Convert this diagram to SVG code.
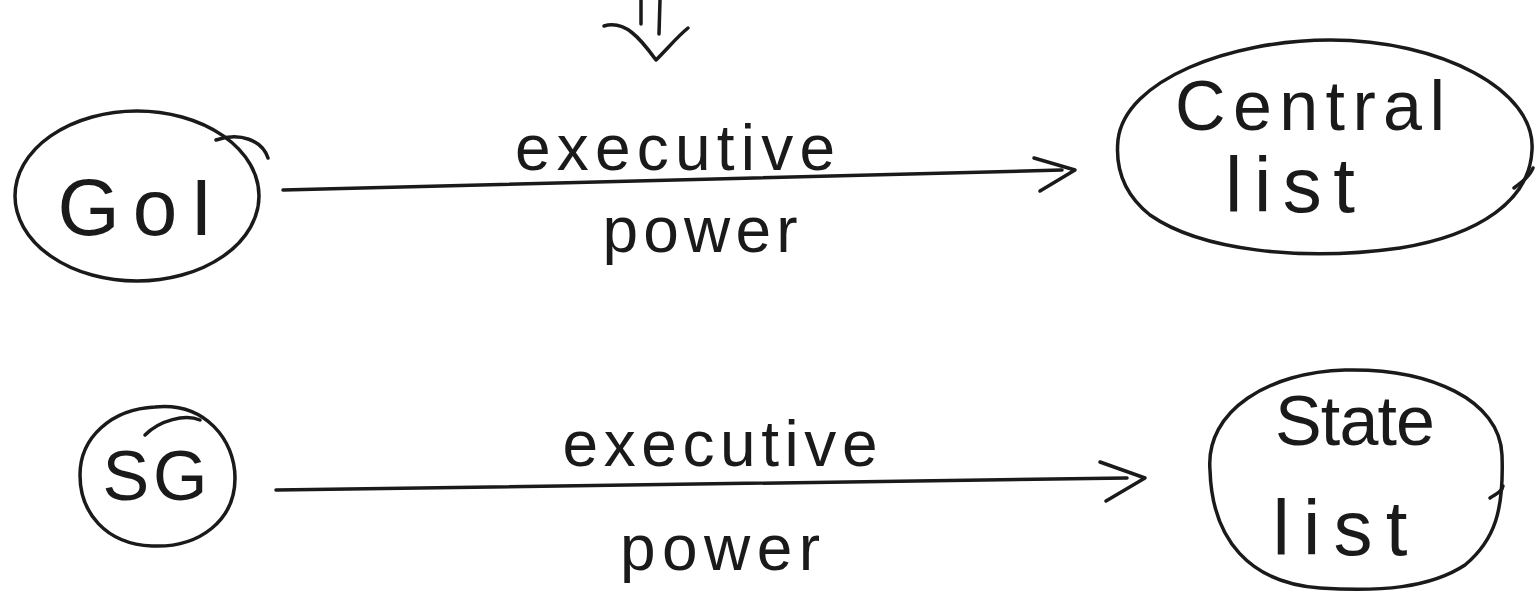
<svg xmlns="http://www.w3.org/2000/svg" width="1536" height="592" viewBox="0 0 1536 592">
<style>
.bg{fill:#ffffff}
.ln{fill:none;stroke:#1a1a1a;stroke-width:3.5;stroke-linecap:round;stroke-linejoin:round}
.t{font-family:"Liberation Sans","DejaVu Sans",sans-serif;fill:#1a1a1a;text-anchor:middle}
.big{font-size:70px}
.lbl{font-size:64px}
</style>
<rect class="bg" x="0" y="0" width="1536" height="592"/>
<g id="top-arrow">
<path class="ln" d="M641,0 L641,24"/>
<path class="ln" d="M660,0 L659,34"/>
<path class="ln" d="M604,26 C625,20 640,38 656,60 C668,48 678,36 688,28"/>
</g>
<g id="node-goi">
<ellipse class="ln" cx="137" cy="196" rx="122" ry="85"/>
<path class="ln" d="M216,140 C240,132 262,140 268,158"/>
<text class="t" style="font-size:80px" x="135" y="235" textLength="155" lengthAdjust="spacing">GoI</text>
</g>
<g id="node-central">
<path class="ln" d="M1118,140 C1125,80 1230,40 1330,40 C1440,40 1536,90 1532,150 C1530,200 1480,235 1400,248 C1300,262 1200,250 1150,215 C1125,195 1115,170 1118,140 Z"/>
<path class="ln" d="M1514,188 C1522,182 1530,176 1533,168"/>
<text class="t big" x="1310" y="130" textLength="270" lengthAdjust="spacing">Central</text>
<text class="t" style="font-size:78px" x="1290" y="212" textLength="130" lengthAdjust="spacing">list</text>
</g>
<g id="node-sg">
<path class="ln" d="M155,407 C205,402 235,440 235,478 C235,520 200,548 152,546 C105,544 80,512 80,475 C80,437 112,409 155,407 Z"/>
<path class="ln" d="M145,435 C160,420 185,414 200,420"/>
<text class="t big" x="155" y="500" textLength="105" lengthAdjust="spacing">SG</text>
</g>
<g id="node-state">
<path class="ln" d="M1210,470 C1205,410 1270,372 1345,370 C1430,368 1500,400 1502,455 C1504,510 1495,540 1465,565 C1430,588 1380,592 1320,588 C1250,583 1212,540 1210,470 Z"/>
<path class="ln" d="M1490,498 C1496,494 1502,492 1503,486"/>
<text class="t big" x="1355" y="445" textLength="160" lengthAdjust="spacing">State</text>
<text class="t" style="font-size:78px" x="1340" y="555" textLength="135" lengthAdjust="spacing">list</text>
</g>
<g id="connectors">
<path class="ln" d="M283,190 L1062,170"/>
<path class="ln" d="M1034,158 L1075,170 L1040,191"/>
<path class="ln" d="M276,490 L1127,478"/>
<path class="ln" d="M1100,462 L1145,478 L1106,501"/>
<text class="t lbl" x="675" y="170" textLength="320" lengthAdjust="spacing">executive</text>
<text class="t lbl" x="700" y="252" textLength="195" lengthAdjust="spacing">power</text>
<text class="t lbl" x="720" y="466" textLength="315" lengthAdjust="spacing">executive</text>
<text class="t lbl" x="720" y="570" textLength="200" lengthAdjust="spacing">power</text>
</g>
</svg>
